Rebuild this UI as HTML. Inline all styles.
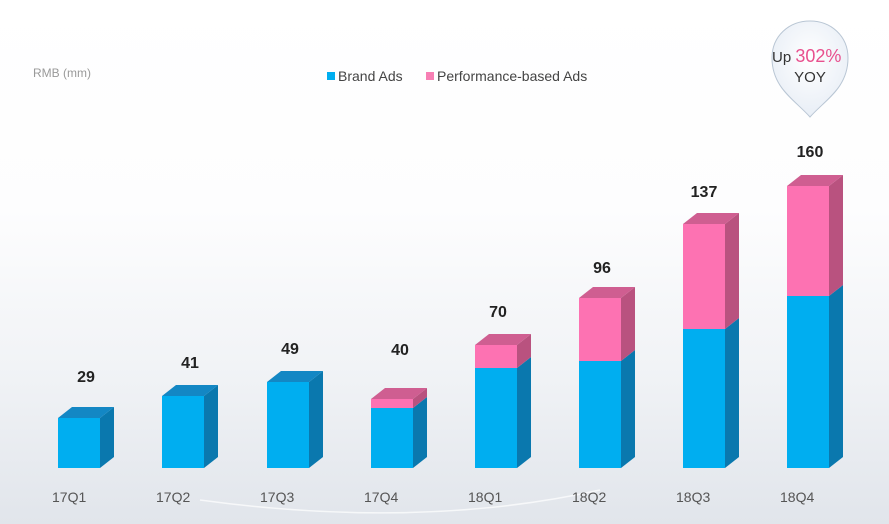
<!DOCTYPE html>
<html><head><meta charset="utf-8"><style>
html,body{margin:0;padding:0;width:889px;height:524px;overflow:hidden;background:#fff}
svg{display:block;font-family:"Liberation Sans",Arial,sans-serif}
</style></head><body>
<svg width="889" height="524" viewBox="0 0 889 524" xmlns="http://www.w3.org/2000/svg">
<defs>
<linearGradient id="bg" x1="0" y1="0" x2="0" y2="1">
<stop offset="0" stop-color="#ffffff"/><stop offset="0.4" stop-color="#fdfdfe"/><stop offset="0.7" stop-color="#f1f3f6"/><stop offset="1" stop-color="#e1e5eb"/>
</linearGradient>
<radialGradient id="bub" cx="0.5" cy="0.4" r="0.6">
<stop offset="0" stop-color="#ffffff"/><stop offset="1" stop-color="#e8eef6"/>
</radialGradient>
</defs>
<rect width="889" height="524" fill="url(#bg)"/>
<path d="M200 500 Q420 530 600 490" stroke="#ffffff" stroke-width="1.5" fill="none" opacity="0.7"/>
<text x="33" y="77" font-size="12" fill="#999">RMB (mm)</text>
<rect x="327" y="72" width="8" height="8" fill="#00aef0"/>
<text x="338" y="81" font-size="14" fill="#444">Brand Ads</text>
<rect x="426" y="72" width="8" height="8" fill="#f77fb4"/>
<text x="437" y="81" font-size="14" fill="#444">Performance-based Ads</text>
<path d="M810 117 C795 100 772 88 772 58 C772 36 789 21 810 21 C831 21 848 36 848 58 C848 88 825 100 810 117 Z" fill="url(#bub)" stroke="#b9c6d4" stroke-width="1"/>
<text x="772" y="62" font-size="15" fill="#333">Up <tspan fill="#e8508e" font-size="18">302%</tspan></text>
<text x="810" y="82" font-size="15" fill="#333" text-anchor="middle">YOY</text>

<g>
<rect x="58" y="418" width="42" height="50" fill="#00aef0"/>
<polygon points="100,418 114,407 114,457 100,468" fill="#0a78ae"/>
<polygon points="58,418 72,407 114,407 100,418" fill="#1387c4"/>

<rect x="162" y="396" width="42" height="72" fill="#00aef0"/>
<polygon points="204,396 218,385 218,457 204,468" fill="#0a78ae"/>
<polygon points="162,396 176,385 218,385 204,396" fill="#1387c4"/>

<rect x="267" y="382" width="42" height="86" fill="#00aef0"/>
<polygon points="309,382 323,371 323,457 309,468" fill="#0a78ae"/>
<polygon points="267,382 281,371 323,371 309,382" fill="#1387c4"/>

<rect x="371" y="408" width="42" height="60" fill="#00aef0"/>
<polygon points="413,408 427,397 427,457 413,468" fill="#0a78ae"/>
<rect x="371" y="399" width="42" height="9" fill="#fd72b2"/>
<polygon points="413,399 427,388 427,397 413,408" fill="#b9527f"/>
<polygon points="371,399 385,388 427,388 413,399" fill="#cf5e91"/>

<rect x="475" y="368" width="42" height="100" fill="#00aef0"/>
<polygon points="517,368 531,357 531,457 517,468" fill="#0a78ae"/>
<rect x="475" y="345" width="42" height="23" fill="#fd72b2"/>
<polygon points="517,345 531,334 531,357 517,368" fill="#b9527f"/>
<polygon points="475,345 489,334 531,334 517,345" fill="#cf5e91"/>

<rect x="579" y="361" width="42" height="107" fill="#00aef0"/>
<polygon points="621,361 635,350 635,457 621,468" fill="#0a78ae"/>
<rect x="579" y="298" width="42" height="63" fill="#fd72b2"/>
<polygon points="621,298 635,287 635,350 621,361" fill="#b9527f"/>
<polygon points="579,298 593,287 635,287 621,298" fill="#cf5e91"/>

<rect x="683" y="329" width="42" height="139" fill="#00aef0"/>
<polygon points="725,329 739,318 739,457 725,468" fill="#0a78ae"/>
<rect x="683" y="224" width="42" height="105" fill="#fd72b2"/>
<polygon points="725,224 739,213 739,318 725,329" fill="#b9527f"/>
<polygon points="683,224 697,213 739,213 725,224" fill="#cf5e91"/>

<rect x="787" y="296" width="42" height="172" fill="#00aef0"/>
<polygon points="829,296 843,285 843,457 829,468" fill="#0a78ae"/>
<rect x="787" y="186" width="42" height="110" fill="#fd72b2"/>
<polygon points="829,186 843,175 843,285 829,296" fill="#b9527f"/>
<polygon points="787,186 801,175 843,175 829,186" fill="#cf5e91"/>
</g>

<g font-size="14" fill="#555">
<text x="52" y="502">17Q1</text><text x="156" y="502">17Q2</text><text x="260" y="502">17Q3</text><text x="364" y="502">17Q4</text>
<text x="468" y="502">18Q1</text><text x="572" y="502">18Q2</text><text x="676" y="502">18Q3</text><text x="780" y="502">18Q4</text>
</g>
<g font-size="16" font-weight="bold" fill="#222" text-anchor="middle">
<text x="86" y="382">29</text><text x="190" y="368">41</text><text x="290" y="354">49</text><text x="400" y="355">40</text>
<text x="498" y="317">70</text><text x="602" y="273">96</text><text x="704" y="197">137</text><text x="810" y="157">160</text>
</g>
</svg>
</body></html>
